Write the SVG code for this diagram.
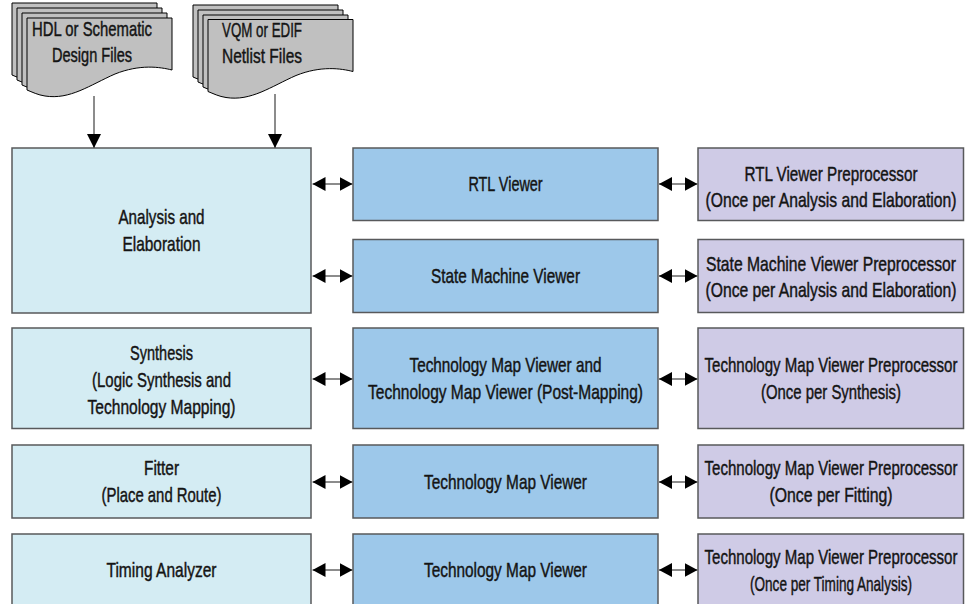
<svg xmlns="http://www.w3.org/2000/svg" width="965" height="604" viewBox="0 0 965 604">
<style>
text{font-family:"Liberation Sans",Arial,sans-serif;font-size:21px;fill:#141414;stroke:#141414;stroke-width:0.45;text-anchor:middle}
.l{fill:#d4ecf3;stroke:#58595b;stroke-width:1.5}
.m{fill:#9dc8ea;stroke:#58595b;stroke-width:1.5}
.r{fill:#cfcbe6;stroke:#58595b;stroke-width:1.5}
.doc{fill:#c0c0c0;stroke:#000;stroke-width:1}
.c{stroke:#666;stroke-width:1.5;fill:none}
</style>
<defs>
<marker id="ah" viewBox="0 0 13 14" refX="13" refY="7" markerWidth="13" markerHeight="14" markerUnits="userSpaceOnUse" orient="auto-start-reverse"><path d="M0,0 L13,7 L0,14 z" fill="#000"/></marker>
<marker id="av" viewBox="0 0 14 15" refX="14" refY="7" markerWidth="14" markerHeight="15" markerUnits="userSpaceOnUse" orient="auto"><path d="M0,0 L14,7 L0,14 z" fill="#000"/></marker>
<path id="page" d="M0,0 H145 V52 C133,49 113,46 88,56 C63,67 43,82 18,78 C11,77 5,74 0,72 Z"/>
</defs>

<g id="doc-hdl">
<use href="#page" class="doc" x="12" y="3"/>
<use href="#page" class="doc" x="17" y="8"/>
<use href="#page" class="doc" x="22" y="13"/>
<use href="#page" class="doc" x="27" y="18"/>
<text transform="matrix(0.75 0 0 1 92 0)" y="36.5" textLength="160" lengthAdjust="spacingAndGlyphs">HDL or Schematic</text>
<text transform="matrix(0.75 0 0 1 92 0)" y="62.5" textLength="106.7" lengthAdjust="spacingAndGlyphs">Design Files</text>
</g>
<g id="doc-vqm">
<use href="#page" class="doc" x="193" y="5"/>
<use href="#page" class="doc" x="198" y="10"/>
<use href="#page" class="doc" x="203" y="15"/>
<use href="#page" class="doc" x="208" y="19.5"/>
<text transform="matrix(0.75 0 0 1 262 0)" y="37.5" textLength="106.7" lengthAdjust="spacingAndGlyphs">VQM or EDIF</text>
<text transform="matrix(0.75 0 0 1 262 0)" y="63.5" textLength="106.7" lengthAdjust="spacingAndGlyphs">Netlist Files</text>
</g>

<g id="analysis">
<rect class="l" x="12" y="148" width="299" height="165"/>
<text transform="matrix(0.75 0 0 1 161.5 0)" y="224.5" textLength="114.7" lengthAdjust="spacingAndGlyphs">Analysis and</text>
<text transform="matrix(0.75 0 0 1 161.5 0)" y="251.5" textLength="104" lengthAdjust="spacingAndGlyphs">Elaboration</text>
</g>
<g id="synthesis">
<rect class="l" x="12" y="328" width="299" height="100.5"/>
<text transform="matrix(0.75 0 0 1 161.5 0)" y="360.5" textLength="84" lengthAdjust="spacingAndGlyphs">Synthesis</text>
<text transform="matrix(0.75 0 0 1 161.5 0)" y="387.5" textLength="185.3" lengthAdjust="spacingAndGlyphs">(Logic Synthesis and</text>
<text transform="matrix(0.75 0 0 1 161.5 0)" y="414" textLength="197.3" lengthAdjust="spacingAndGlyphs">Technology Mapping)</text>
</g>
<g id="fitter">
<rect class="l" x="12" y="445" width="299" height="73"/>
<text transform="matrix(0.75 0 0 1 161.5 0)" y="475.5" textLength="46.7" lengthAdjust="spacingAndGlyphs">Fitter</text>
<text transform="matrix(0.75 0 0 1 161.5 0)" y="502.5" textLength="160" lengthAdjust="spacingAndGlyphs">(Place and Route)</text>
</g>
<g id="timing">
<rect class="l" x="12" y="534" width="299" height="80"/>
<text transform="matrix(0.75 0 0 1 161.5 0)" y="577.5" textLength="146.7" lengthAdjust="spacingAndGlyphs">Timing Analyzer</text>
</g>

<g id="rtl-viewer">
<rect class="m" x="353" y="148" width="305" height="72.5"/>
<text transform="matrix(0.75 0 0 1 505.5 0)" y="191.5" textLength="99" lengthAdjust="spacingAndGlyphs">RTL Viewer</text>
</g>
<g id="sm-viewer">
<rect class="m" x="353" y="239.5" width="305" height="73"/>
<text transform="matrix(0.75 0 0 1 505.5 0)" y="283.5" textLength="198.7" lengthAdjust="spacingAndGlyphs">State Machine Viewer</text>
</g>
<g id="tm-viewer-synth">
<rect class="m" x="353" y="328" width="305" height="100.5"/>
<text transform="matrix(0.75 0 0 1 505.5 0)" y="372.5" textLength="256" lengthAdjust="spacingAndGlyphs">Technology Map Viewer and</text>
<text transform="matrix(0.75 0 0 1 505.5 0)" y="399" textLength="366.7" lengthAdjust="spacingAndGlyphs">Technology Map Viewer (Post-Mapping)</text>
</g>
<g id="tm-viewer-fit">
<rect class="m" x="353" y="445" width="305" height="73"/>
<text transform="matrix(0.75 0 0 1 505.5 0)" y="489" textLength="217.3" lengthAdjust="spacingAndGlyphs">Technology Map Viewer</text>
</g>
<g id="tm-viewer-timing">
<rect class="m" x="353" y="534" width="305" height="80"/>
<text transform="matrix(0.75 0 0 1 505.5 0)" y="577.5" textLength="217.3" lengthAdjust="spacingAndGlyphs">Technology Map Viewer</text>
</g>

<g id="rtl-pre">
<rect class="r" x="698" y="148" width="265.5" height="72.5"/>
<text transform="matrix(0.75 0 0 1 831 0)" y="181" textLength="230.7" lengthAdjust="spacingAndGlyphs">RTL Viewer Preprocessor</text>
<text transform="matrix(0.75 0 0 1 831 0)" y="207.5" textLength="334.7" lengthAdjust="spacingAndGlyphs">(Once per Analysis and Elaboration)</text>
</g>
<g id="sm-pre">
<rect class="r" x="698" y="239.5" width="265.5" height="73"/>
<text transform="matrix(0.75 0 0 1 831 0)" y="271" textLength="333.3" lengthAdjust="spacingAndGlyphs">State Machine Viewer Preprocessor</text>
<text transform="matrix(0.75 0 0 1 831 0)" y="297.5" textLength="334.7" lengthAdjust="spacingAndGlyphs">(Once per Analysis and Elaboration)</text>
</g>
<g id="tm-pre-synth">
<rect class="r" x="698" y="328" width="265.5" height="100.5"/>
<text transform="matrix(0.71 0 0 1 831 0)" y="372.5" textLength="356.3" lengthAdjust="spacingAndGlyphs">Technology Map Viewer Preprocessor</text>
<text transform="matrix(0.75 0 0 1 831 0)" y="399" textLength="186.7" lengthAdjust="spacingAndGlyphs">(Once per Synthesis)</text>
</g>
<g id="tm-pre-fit">
<rect class="r" x="698" y="445" width="265.5" height="73"/>
<text transform="matrix(0.71 0 0 1 831 0)" y="475.5" textLength="356.3" lengthAdjust="spacingAndGlyphs">Technology Map Viewer Preprocessor</text>
<text transform="matrix(0.75 0 0 1 831 0)" y="502.5" textLength="164" lengthAdjust="spacingAndGlyphs">(Once per Fitting)</text>
</g>
<g id="tm-pre-timing">
<rect class="r" x="698" y="534" width="265.5" height="80"/>
<text transform="matrix(0.71 0 0 1 831 0)" y="564.5" textLength="356.3" lengthAdjust="spacingAndGlyphs">Technology Map Viewer Preprocessor</text>
<text transform="matrix(0.75 0 0 1 831 0)" y="591.5" textLength="216" lengthAdjust="spacingAndGlyphs">(Once per Timing Analysis)</text>
</g>

<g id="connectors">
<line class="c" x1="94" y1="96" x2="94" y2="148" marker-end="url(#av)"/>
<line class="c" x1="275" y1="94" x2="275" y2="148" marker-end="url(#av)"/>
<line class="c" x1="312.5" y1="184" x2="352.5" y2="184" marker-start="url(#ah)" marker-end="url(#ah)"/>
<line class="c" x1="312.5" y1="276" x2="352.5" y2="276" marker-start="url(#ah)" marker-end="url(#ah)"/>
<line class="c" x1="312.5" y1="379" x2="352.5" y2="379" marker-start="url(#ah)" marker-end="url(#ah)"/>
<line class="c" x1="312.5" y1="482" x2="352.5" y2="482" marker-start="url(#ah)" marker-end="url(#ah)"/>
<line class="c" x1="312.5" y1="570" x2="352.5" y2="570" marker-start="url(#ah)" marker-end="url(#ah)"/>
<line class="c" x1="659" y1="184" x2="697.5" y2="184" marker-start="url(#ah)" marker-end="url(#ah)"/>
<line class="c" x1="659" y1="276" x2="697.5" y2="276" marker-start="url(#ah)" marker-end="url(#ah)"/>
<line class="c" x1="659" y1="379" x2="697.5" y2="379" marker-start="url(#ah)" marker-end="url(#ah)"/>
<line class="c" x1="659" y1="482" x2="697.5" y2="482" marker-start="url(#ah)" marker-end="url(#ah)"/>
<line class="c" x1="659" y1="570" x2="697.5" y2="570" marker-start="url(#ah)" marker-end="url(#ah)"/>
</g>
</svg>
